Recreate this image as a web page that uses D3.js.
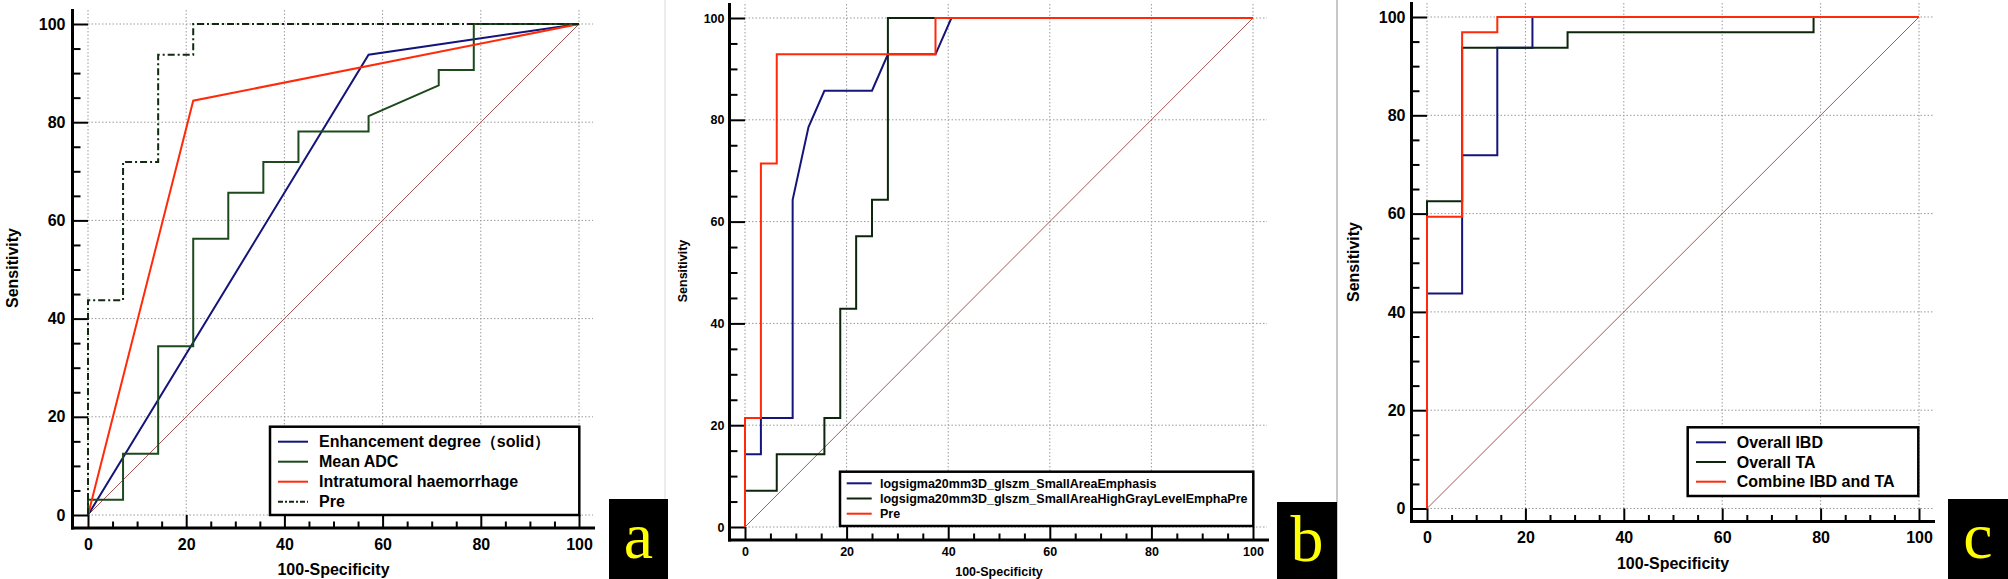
<html>
<head>
<meta charset="utf-8">
<script src="https://d3js.org/d3.v7.min.js"></script>
<style>
body { margin: 0; background: #fff; }
text { font-family: "Liberation Sans", Arial, sans-serif; font-weight: bold; fill: #000; }
</style>
</head>
<body>
<svg id="chart" width="2008" height="579"></svg>
<script>
// ---- data ----
const majorTicks = [0, 20, 40, 60, 80, 100];
const minorTicks = [5, 10, 15, 25, 30, 35, 45, 50, 55, 65, 70, 75, 85, 90, 95];
const diagonal = [[0, 0], [100, 100]];

// panel a : [100-specificity, sensitivity]
const aNames = ["Enhancement degree（solid）", "Mean ADC", "Intratumoral haemorrhage", "Pre"];
const aEnhancement = [[0, 0], [57.14, 93.75], [100, 100]];
const aMeanADC = [[0, 0], [0, 3.13], [7.14, 3.13], [7.14, 12.5], [14.29, 12.5], [14.29, 34.38],
  [21.43, 34.38], [21.43, 56.25], [28.57, 56.25], [28.57, 65.63], [35.71, 65.63], [35.71, 71.88],
  [42.86, 71.88], [42.86, 78.13], [57.14, 78.13], [57.14, 81.25], [71.43, 87.5], [71.43, 90.63],
  [78.57, 90.63], [78.57, 100], [100, 100]];
const aHaemorrhage = [[0, 0], [21.43, 84.38], [100, 100]];
const aPre = [[0, 0], [0, 43.75], [7.14, 43.75], [7.14, 71.88], [14.29, 71.88], [14.29, 93.75],
  [21.43, 93.75], [21.43, 100], [100, 100]];

// panel b
const bNames = ["logsigma20mm3D_glszm_SmallAreaEmphasis", "logsigma20mm3D_glszm_SmallAreaHighGrayLevelEmphaPre", "Pre"];
const bSmallArea = [[0, 0], [0, 14.29], [3.13, 14.29], [3.13, 21.43], [9.38, 21.43], [9.38, 64.29],
  [12.5, 78.57], [15.63, 85.71], [25, 85.71], [28.13, 92.86], [37.5, 92.86], [40.63, 100], [100, 100]];
const bHighGray = [[0, 0], [0, 7.14], [6.25, 7.14], [6.25, 14.29], [15.63, 14.29], [15.63, 21.43],
  [18.75, 21.43], [18.75, 42.86], [21.88, 42.86], [21.88, 57.14], [25, 57.14], [25, 64.29],
  [28.13, 64.29], [28.13, 100], [100, 100]];
const bPre = [[0, 0], [0, 21.43], [3.13, 21.43], [3.13, 71.43], [6.25, 71.43], [6.25, 92.86],
  [37.5, 92.86], [37.5, 100], [100, 100]];

// panel c
const cNames = ["Overall IBD", "Overall TA", "Combine IBD and TA"];
const cIBD = [[0, 0], [0, 43.75], [7.14, 43.75], [7.14, 71.88], [14.29, 71.88], [14.29, 93.75],
  [21.43, 93.75], [21.43, 100], [100, 100]];
const cTA = [[0, 0], [0, 62.5], [7.14, 62.5], [7.14, 93.75], [28.57, 93.75], [28.57, 96.88],
  [78.57, 96.88], [78.57, 100], [100, 100]];
const cCombine = [[0, 0], [0, 59.38], [7.14, 59.38], [7.14, 96.88], [14.29, 96.88], [14.29, 100], [100, 100]];

const navy = "#14147a", green = "#1d4a1d", dark = "#0c250c", red = "#ff2a0a";

const panels = [
  { x0: 88, x1: 579, y0: 515, y1: 24, fs: 16, letter: "a",
    box: [609, 499, 59, 80], ylab: [12, 268], xlabY: 569, xpad: 11, ypad: 7,
    leg: { x: 270, y: 426.7, w: 309.3, h: 88.3, row0: 441.7, step: 20, lx: 278, lw: 30, tx: 319, fs: 16 },
    series: [
      { d: aEnhancement, name: aNames[0], color: navy },
      { d: aMeanADC, name: aNames[1], color: green },
      { d: aHaemorrhage, name: aNames[2], color: red },
      { d: aPre, name: aNames[3], color: "#102a10", dash: "7,3,2,3" }
    ] },
  { x0: 745, x1: 1253, y0: 527, y1: 18, fs: 12.5, letter: "b",
    box: [1277, 502, 60, 77], ylab: [683, 271], xlabY: 572, xpad: 7, ypad: 5,
    leg: { x: 840, y: 471.7, w: 413.3, h: 54.3, row0: 483.3, step: 15.2, lx: 846.7, lw: 25, tx: 880, fs: 12.5 },
    series: [
      { d: bSmallArea, name: bNames[0], color: navy },
      { d: bHighGray, name: bNames[1], color: dark },
      { d: bPre, name: bNames[2], color: red }
    ] },
  { x0: 1427, x1: 1919, y0: 508.5, y1: 17, fs: 16, letter: "c",
    box: [1948, 499, 60, 80], ylab: [1353, 262], xlabY: 563, xpad: 10, ypad: 6,
    leg: { x: 1687.7, y: 427.3, w: 230.6, h: 68.7, row0: 442.3, step: 19.7, lx: 1696, lw: 30, tx: 1736.7, fs: 16 },
    series: [
      { d: cIBD, name: cNames[0], color: navy },
      { d: cTA, name: cNames[1], color: dark },
      { d: cCombine, name: cNames[2], color: red }
    ] }
];

const svg = d3.select("#chart");

// faint panel separators
svg.append("line").attr("x1", 665).attr("x2", 665).attr("y1", 0).attr("y2", 579)
  .attr("stroke", "#e6e6e6").attr("stroke-width", 1.5);
svg.append("line").attr("x1", 1337).attr("x2", 1337).attr("y1", 0).attr("y2", 579)
  .attr("stroke", "#c8c8c8").attr("stroke-width", 2);

panels.forEach(p => {
  const x = d3.scaleLinear().domain([0, 100]).range([p.x0, p.x1]);
  const y = d3.scaleLinear().domain([0, 100]).range([p.y0, p.y1]);
  const g = svg.append("g");
  const spineX = p.x0 - 15.5, spineY = p.y0 + 13;

  // dotted grid
  g.append("g").selectAll("line").data(majorTicks).join("line")
    .attr("x1", d => x(d)).attr("x2", d => x(d))
    .attr("y1", y(100) - 14).attr("y2", y(0))
    .attr("stroke", "#9a9a9a").attr("stroke-dasharray", "1.5,2");
  g.append("g").selectAll("line").data(majorTicks).join("line")
    .attr("y1", d => y(d)).attr("y2", d => y(d))
    .attr("x1", x(0)).attr("x2", x(100) + 14)
    .attr("stroke", "#9a9a9a").attr("stroke-dasharray", "1.5,2");

  // y axis
  const yAx = g.append("g").attr("transform", `translate(${spineX},0)`)
    .call(d3.axisLeft(y).tickValues(majorTicks).tickSize(-(x(0) - spineX)).tickPadding(p.ypad));
  const yMin = g.append("g").attr("transform", `translate(${spineX},0)`)
    .call(d3.axisLeft(y).tickValues(minorTicks).tickSize(-8).tickFormat(""));
  // x axis
  const xAx = g.append("g").attr("transform", `translate(0,${spineY})`)
    .call(d3.axisBottom(x).tickValues(majorTicks).tickSize(-(spineY - y(0))).tickPadding(p.xpad));
  const xMin = g.append("g").attr("transform", `translate(0,${spineY})`)
    .call(d3.axisBottom(x).tickValues(minorTicks).tickSize(-6.5).tickFormat(""));
  [yAx, yMin, xAx, xMin].forEach(a => {
    a.select(".domain").remove();
    a.selectAll("line").attr("stroke", "#000").attr("stroke-width", 2);
    a.selectAll("text").style("font-size", p.fs + "px").style("font-family", null).attr("fill", "#000");
  });

  // spines
  g.append("line").attr("x1", spineX).attr("x2", spineX).attr("y1", y(100) - 15).attr("y2", spineY + 1.5)
    .attr("stroke", "#000").attr("stroke-width", 3);
  g.append("line").attr("x1", spineX - 1.5).attr("x2", x(100) + 16).attr("y1", spineY).attr("y2", spineY)
    .attr("stroke", "#000").attr("stroke-width", 3);

  // axis titles
  g.append("text").attr("x", (p.x0 + p.x1) / 2).attr("y", p.xlabY).attr("dy", "0.35em")
    .attr("text-anchor", "middle").style("font-size", p.fs + "px").text("100-Specificity");
  g.append("text").attr("transform", `translate(${p.ylab[0]},${p.ylab[1]}) rotate(-90)`)
    .attr("dy", "0.35em").attr("text-anchor", "middle").style("font-size", p.fs + "px").text("Sensitivity");

  // reference diagonal
  const line = d3.line().x(d => x(d[0])).y(d => y(d[1]));
  g.append("path").attr("d", line(diagonal)).attr("fill", "none")
    .attr("stroke", "#a4585a").attr("stroke-width", 1);

  // ROC curves
  p.series.forEach(s => {
    g.append("path").attr("d", line(s.d)).attr("fill", "none")
      .attr("stroke", s.color).attr("stroke-width", 2)
      .attr("stroke-dasharray", s.dash || null).attr("stroke-linejoin", "miter");
  });

  // legend
  const L = p.leg;
  g.append("rect").attr("x", L.x).attr("y", L.y).attr("width", L.w).attr("height", L.h)
    .attr("fill", "#fff").attr("stroke", "#000").attr("stroke-width", 2.5);
  p.series.forEach((s, i) => {
    const ry = L.row0 + i * L.step;
    g.append("line").attr("x1", L.lx).attr("x2", L.lx + L.lw).attr("y1", ry).attr("y2", ry)
      .attr("stroke", s.color).attr("stroke-width", 2).attr("stroke-dasharray", s.dash ? "5,2,2,2" : null);
    g.append("text").attr("x", L.tx).attr("y", ry).attr("dy", "0.35em")
      .style("font-size", L.fs + "px").text(s.name);
  });

  // panel letter
  g.append("rect").attr("x", p.box[0]).attr("y", p.box[1]).attr("width", p.box[2]).attr("height", p.box[3])
    .attr("fill", "#000");
  g.append("text").attr("x", p.box[0] + p.box[2] / 2).attr("y", p.box[1] + 59)
    .attr("text-anchor", "middle")
    .style("font-family", "'Liberation Serif', 'Times New Roman', serif").style("font-weight", "normal")
    .style("font-size", "66px").attr("fill", "#ffff00").style("fill", "#ffff00").text(p.letter);
});
</script>
</body>
</html>
